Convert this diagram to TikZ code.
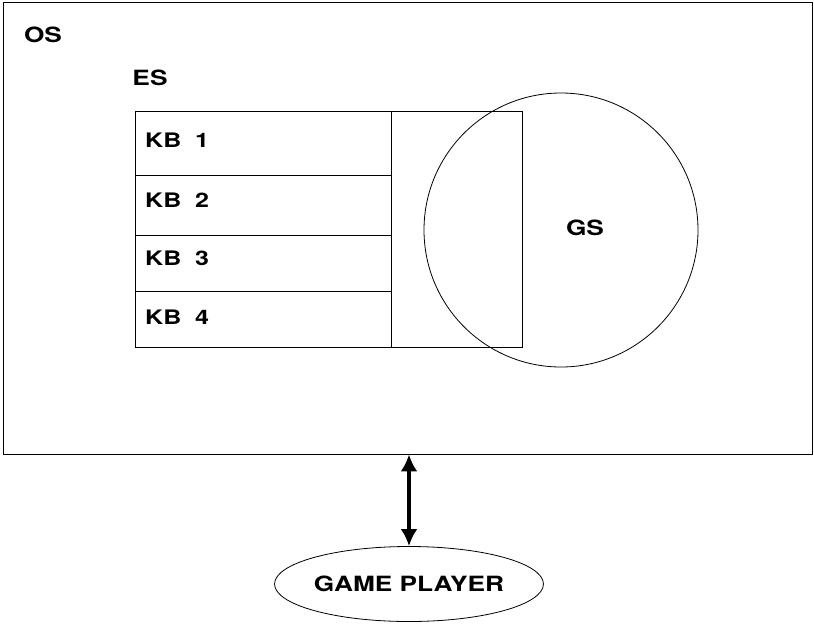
\documentclass[tikz,border=0pt]{standalone}
\usepackage{fontspec}
\setmainfont{TeX Gyre Heros}[FakeStretch=1.25]
\usetikzlibrary{shapes.geometric, arrows.meta}
\tikzset{
  box/.style={draw, rectangle, inner sep=0pt, line width=0.8pt},
  lbl/.style={font=\bfseries\fontsize{21}{24}\selectfont, inner sep=0pt},
  kblbl/.style={font=\bfseries\fontsize{20}{23}\selectfont, inner sep=0pt, anchor=west},
  kbcell/.style={box, minimum width=256pt}
}

\begin{document}
\begin{tikzpicture}[x=1pt, y=-1pt]
  \useasboundingbox (0,0) rectangle (814,624);
  % outer system
  \node[box, minimum width=809pt, minimum height=452pt] (os) at (407.5,228) {};
  \node[lbl] (oslabel) at (43,35) {OS};
  % expert system
  \node[lbl] (eslabel) at (150,78) {ES};
  \node[box, minimum width=387pt, minimum height=236pt] (es) at (328.5,229) {};
  \node[kbcell, minimum height=64pt] (kb1) at (263,143) {};
  \node[kbcell, minimum height=60pt] (kb2) at (263,205) {};
  \node[kbcell, minimum height=56pt] (kb3) at (263,263) {};
  \node[kbcell, minimum height=56pt] (kb4) at (263,319) {};
  \node[kblbl] (kb1label) at (145,140) {KB\ \ 1};
  \node[kblbl] (kb2label) at (145,200) {KB\ \ 2};
  \node[kblbl] (kb3label) at (145,258) {KB\ \ 3};
  \node[kblbl] (kb4label) at (145,317) {KB\ \ 4};
  % game system
  \node[draw, circle, line width=0.8pt, minimum size=274pt, inner sep=0pt] (gs) at (561,230) {};
  \node[lbl] (gslabel) at (585,228) {GS};
  % player
  \node[draw, ellipse, line width=0.8pt, minimum width=266pt, minimum height=75pt, inner sep=0pt, lbl] (player) at (409,584) {GAME PLAYER};
  \draw[line width=4pt, {Latex[length=17pt,width=17pt]}-{Latex[length=17pt,width=17pt]}] (os.south -| player.north) -- (player.north);
\end{tikzpicture}
\end{document}
